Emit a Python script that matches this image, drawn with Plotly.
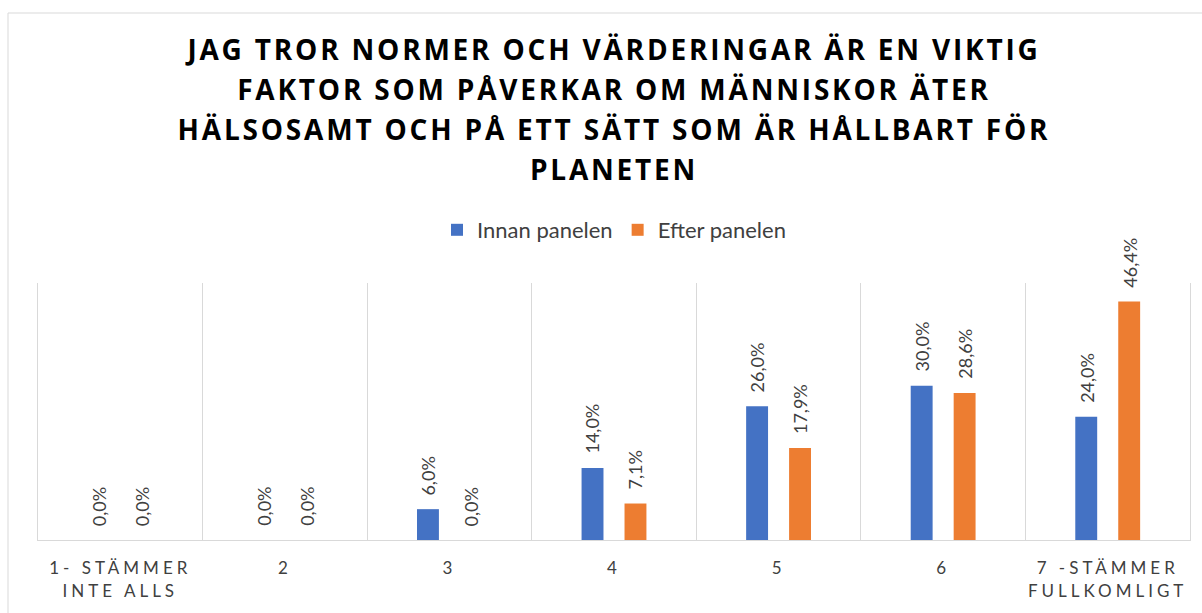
import plotly.graph_objects as go

categories = ["1- STÄMMER<br>INTE ALLS", "2", "3", "4", "5", "6", "7 -STÄMMER<br>FULLKOMLIGT"]
innan = [0.0, 0.0, 0.06, 0.14, 0.26, 0.30, 0.24]
efter = [0.0, 0.0, 0.0, 0.071, 0.179, 0.286, 0.464]
series_names = ["Innan panelen", "Efter panelen"]
colors = ["#4472C4", "#ED7D31"]
title_text = ("JAG TROR NORMER OCH VÄRDERINGAR ÄR EN VIKTIG<br>"
              "FAKTOR SOM PÅVERKAR OM MÄNNISKOR ÄTER<br>"
              "HÄLSOSAMT OCH PÅ ETT SÄTT SOM ÄR HÅLLBART FÖR<br>"
              "PLANETEN")

W, H = 1202, 613
ML, MR, MT, MB = 38, 12, 283, 73

fig = go.Figure()
for name, vals, col in zip(series_names, [innan, efter], colors):
    fig.add_trace(go.Bar(x=categories, y=vals, name=name, marker_color=col,
                         marker_line_width=0))

def fmt(v):
    return f"{v*100:.1f}%".replace(".", ",")

annotations = []
for k, vals in enumerate([innan, efter]):
    shift = -21.5 if k == 0 else 21.5
    for i, v in enumerate(vals):
        annotations.append(dict(x=i, y=v, xref="x", yref="y", text=fmt(v),
                                showarrow=False, textangle=-90,
                                xanchor="center", yanchor="bottom",
                                xshift=shift, yshift=12,
                                font=dict(family="Lato", size=18, color="#404040")))

pw = W - ML - MR
ph = H - MT - MB
shapes = [dict(type="rect", xref="paper", yref="paper",
               x0=(8 - ML) / pw, x1=1.2, y0=-1.0, y1=(H - MB - 13) / ph,
               line=dict(color="#d9d9d9", width=1), fillcolor="rgba(0,0,0,0)",
               layer="below")]

fig.update_layout(
    width=W, height=H,
    margin=dict(l=ML, r=MR, t=MT, b=MB),
    paper_bgcolor="white", plot_bgcolor="white",
    barmode="group", bargap=0.478, bargroupgap=0.49,
    title=dict(text=title_text, x=0.5, xref="paper", xanchor="center",
               y=1 - 60 / H, yref="container", yanchor="middle",
               font=dict(family="Open Sans", size=28, color="#000000", weight="bold")),
    legend=dict(orientation="h", x=0.5, xanchor="center", y=(H - MB - 230) / ph,
                yanchor="middle", font=dict(family="Lato", size=22, color="#404040"),
                itemwidth=30),
    xaxis=dict(type="category", tickson="boundaries", showgrid=True,
               gridcolor="#d9d9d9", gridwidth=1, showline=True, linecolor="#d9d9d9",
               linewidth=1, ticks="", zeroline=False, ticklabelstandoff=13,
               tickfont=dict(family="Lato", size=17, color="#404040")),
    yaxis=dict(range=[0, 0.5], visible=True, showticklabels=False, ticks="",
               showgrid=False, zeroline=False, showline=True, mirror=True,
               linecolor="#d9d9d9", linewidth=1),
    annotations=annotations,
    shapes=shapes,
    showlegend=True,
)

post = """
document.body.style.margin='0';
document.querySelectorAll('.gtitle').forEach(function(e){
  e.style.letterSpacing='2.8px';
  e.querySelectorAll('tspan.line').forEach(function(t){
    var d = parseFloat(t.getAttribute('dy') || '0');
    if (d > 0) { t.setAttribute('dy', (d * 1.43 / 1.3) + 'em'); }
  });
});
document.querySelectorAll('.xtick text').forEach(function(e){e.style.letterSpacing='4px';});
"""
fig.write_html("out.html", post_script=post, config={"displayModeBar": False})
